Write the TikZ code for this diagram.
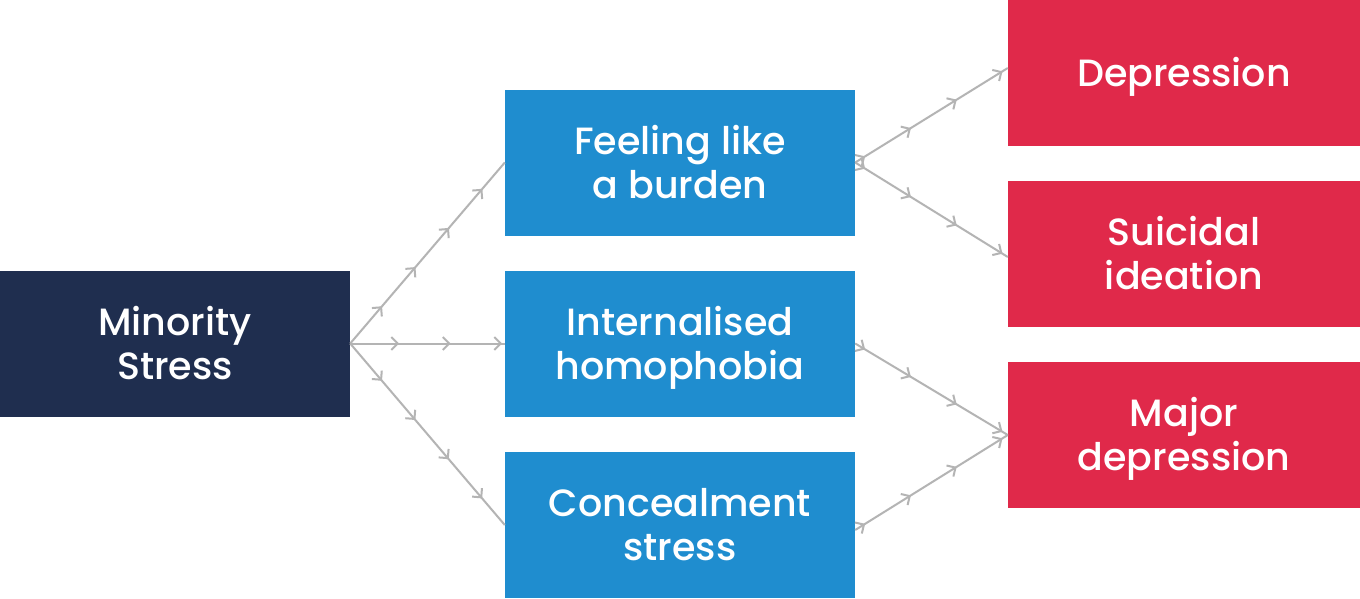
\documentclass[tikz,border=0pt]{standalone}
\usepackage{fontspec}
\setmainfont{Poppins}[UprightFont={* Medium}]
\usetikzlibrary{arrows.meta,decorations.markings}
\definecolor{navy}{HTML}{1F2E4F}
\definecolor{boxblue}{HTML}{1F8DCF}
\definecolor{boxred}{HTML}{E0294A}
\definecolor{linegray}{HTML}{B4B4B4}
\begin{document}
\begin{tikzpicture}[x=1pt,y=-1pt,
  box/.style={draw=none, inner sep=0pt, minimum width=350pt, minimum height=146pt,
    text=white, align=center, text depth=2pt, font=\fontsize{38}{44}\selectfont},
  leftflow/.style={draw=linegray, line width=2pt, postaction={decorate},
    decoration={markings, mark=between positions 49pt and 1 step 51.5pt with {\arrow[linegray, line width=2pt]{Straight Barb[length=6.5pt,width=13pt]}}}},
  rightflow/.style={draw=linegray, line width=2pt, postaction={decorate},
    decoration={markings, mark=between positions 0.065 and 1 step 0.3 with {\arrow[linegray, line width=2pt]{Straight Barb[length=6.5pt,width=13pt]}}}}
]
\useasboundingbox[fill=white] (0,0) rectangle (1360,598);
\node[box, fill=navy] (ms) at (175,343.5) {Minority\\Stress};
\node[box, fill=boxblue] (fb) at (680,162.5) {Feeling like\\a burden};
\node[box, fill=boxblue] (ih) at (680,343.5) {Internalised\\homophobia};
\node[box, fill=boxblue] (cs) at (680,525) {Concealment\\stress};
\node[box, fill=boxred, minimum width=352pt] (dep) at (1184,73) {Depression};
\node[box, fill=boxred, minimum width=352pt] (si) at (1184,253.5) {Suicidal\\ideation};
\node[box, fill=boxred, minimum width=352pt] (md) at (1184,435) {Major\\depression};
\draw[leftflow] (ms.east) -- (fb.west);
\draw[leftflow] (ms.east) -- (ih.west);
\draw[leftflow] (ms.east) -- (cs.west);
\draw[rightflow] (fb.east) -- ([yshift=5pt]dep.west);
\draw[rightflow] (fb.east) -- ([yshift=-3.5pt]si.west);
\draw[rightflow] (ih.east) -- (md.west);
\draw[rightflow] ([yshift=-5pt]cs.east) -- (md.west);
\end{tikzpicture}
\end{document}
